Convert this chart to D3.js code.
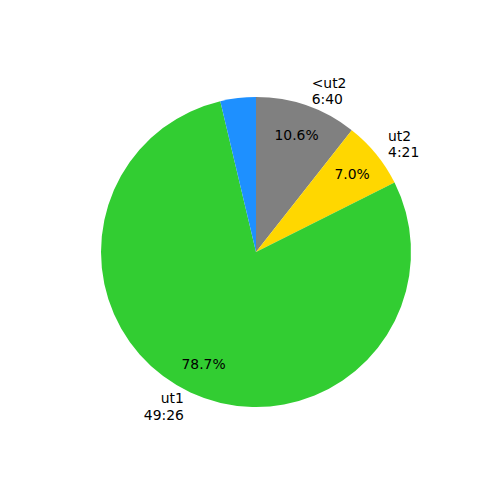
<!DOCTYPE html>
<html>
<head>
<meta charset="utf-8">
<script src="https://cdn.jsdelivr.net/npm/d3@7"></script>
<style>
  body { margin: 0; background: #fff; }
  text { font-family: "DejaVu Sans", sans-serif; font-size: 13.9px; fill: #000; }
</style>
</head>
<body>
<script>
// slice data, clockwise from 12 o'clock
var names = ["<ut2", "ut2", "ut1", ""];
var times = ["6:40", "4:21", "49:26", ""];
var shares = [10.6, 7.0, 78.7, 3.7];
var colors = ["#808080", "#FFD700", "#32CD32", "#1E90FF"];

var width = 500,
  height = 500,
  cx = 256,
  cy = 252,
  radius = 155;

var svg = d3.select("body")
  .append("svg")
  .attr("width", width)
  .attr("height", height);

var g = svg.append("g")
  .attr("transform", "translate(" + cx + "," + cy + ")");

var pie = d3.pie()
  .sort(null)
  .value(function(d){ return d; });

var arcs = pie(shares);

var arc = d3.arc().innerRadius(0).outerRadius(radius);
var pctArc = d3.arc().innerRadius(radius * 0.8).outerRadius(radius * 0.8);
var labelArc = d3.arc().innerRadius(radius * 1.1).outerRadius(radius * 1.1);

// wedges
g.selectAll(".slice")
  .data(arcs)
  .enter()
  .append("path")
  .attr("class", "slice")
  .attr("d", arc)
  .attr("fill", function(d, i){ return colors[i]; });

// percentage labels (skip the unlabelled slice)
g.selectAll(".pct")
  .data(arcs.filter(function(d, i){ return names[i] !== ""; }))
  .enter()
  .append("text")
  .attr("class", "pct")
  .attr("transform", function(d){ return "translate(" + pctArc.centroid(d) + ")"; })
  .attr("text-anchor", "middle")
  .attr("dy", "0.36em")
  .text(function(d){ return d.value.toFixed(1) + "%"; });

// outer name / time labels
var lineGap = 16.7;
var labels = g.selectAll(".label")
  .data(arcs.filter(function(d, i){ return names[i] !== ""; }))
  .enter()
  .append("text")
  .attr("class", "label")
  .attr("transform", function(d){ return "translate(" + labelArc.centroid(d) + ")"; })
  .attr("text-anchor", function(d){
    return labelArc.centroid(d)[0] > 0 ? "start" : "end";
  });

labels.append("tspan")
  .attr("x", 0)
  .attr("y", -lineGap / 2)
  .attr("dy", "0.36em")
  .text(function(d){ return names[d.index]; });

labels.append("tspan")
  .attr("x", 0)
  .attr("y", lineGap / 2)
  .attr("dy", "0.36em")
  .text(function(d){ return times[d.index]; });
</script>
</body>
</html>
